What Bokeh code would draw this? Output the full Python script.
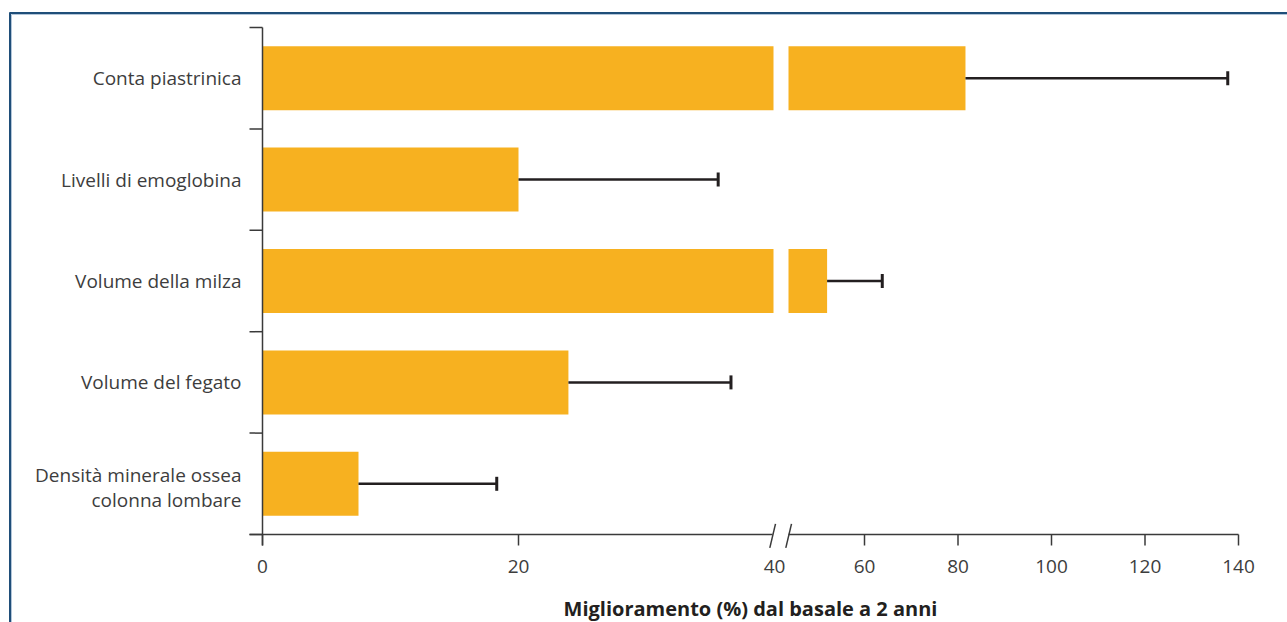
from bokeh.plotting import figure
from bokeh.models import Range1d
from bokeh.core.properties import value
from bokeh.embed import file_html
from bokeh.resources import INLINE

# ---- data -------------------------------------------------------------
categories = [
    "Conta piastrinica",
    "Livelli di emoglobina",
    "Volume della milza",
    "Volume del fegato",
    "Densità minerale ossea\ncolonna lombare",
]
improvement = [81.6, 20.0, 52.0, 23.9, 7.5]      # mean improvement (%)
upper = [137.7, 35.6, 63.8, 36.6, 18.3]          # top of the error bar (%)
tick_values = [0, 20, 40, 60, 80, 100, 120, 140]
tick_labels = ["0", "20", "40", "60", "80", "100", "120", "140"]
x_title = "Miglioramento (%) dal basale a 2 anni"

# ---- layout constants ---------------------------------------------------
W, H = 1287, 622
X0_PX = 262          # pixel column of value 0
PX_PER_UNIT = 12.8   # pixels per % below the axis break
AXIS_Y_PX = 534      # pixel row of the value axis
BAND_PX = 101.4      # height of one category band
BREAK = 40           # axis is compressed above this value
K2 = 4.675 / PX_PER_UNIT          # compression factor above the break
D40 = (770.5 - X0_PX) / PX_PER_UNIT
SEG1_END = (773 - X0_PX) / PX_PER_UNIT
SEG2_START = (788 - X0_PX) / PX_PER_UNIT

BAR_COLOR = "#F7B120"
INK = "#231f20"
AXIS_COLOR = "#3a3a3a"
TEXT_COLOR = "#3d3d3d"
FONT = value("Open Sans")


def to_axis(v):
    """Map a percentage to the broken-axis coordinate."""
    return v if v <= BREAK else D40 + (v - BREAK) * K2


def px_x(px):
    return (px - X0_PX) / PX_PER_UNIT


def px_y(py):
    return (AXIS_Y_PX - py) / BAND_PX


def dy(n):
    return n / BAND_PX


p = figure(
    width=W, height=H,
    x_range=Range1d(px_x(0), px_x(W)),
    y_range=Range1d(px_y(H), px_y(0)),
    output_backend="svg", toolbar_location=None,
    x_axis_type=None, y_axis_type=None,
    min_border=0, title=None,
)
p.outline_line_color = None
p.background_fill_color = "white"
p.border_fill_color = "white"

n = len(categories)
centers = [n - i - 0.5 for i in range(n)]

# ---- bars (split at the axis break) -----------------------------------
seg1_right = [min(to_axis(v), SEG1_END) for v in improvement]
p.hbar(y=centers, left=0, right=seg1_right, height=0.631,
       fill_color=BAR_COLOR, line_color=None)
long_y = [c for c, v in zip(centers, improvement) if v > BREAK]
long_r = [to_axis(v) for v in improvement if v > BREAK]
p.hbar(y=long_y, left=SEG2_START, right=long_r, height=0.631,
       fill_color=BAR_COLOR, line_color=None)

# ---- error bars --------------------------------------------------------
ex0 = [to_axis(v) for v in improvement]
ex1 = [to_axis(u) for u in upper]
p.segment(x0=ex0, y0=centers, x1=ex1, y1=centers, line_color=INK, line_width=2.5)
p.segment(x0=ex1, y0=[c - dy(7) for c in centers], x1=ex1,
          y1=[c + dy(7) for c in centers], line_color=INK, line_width=3)

# ---- category axis -----------------------------------------------------
p.segment(x0=[0], y0=[px_y(27)], x1=[0], y1=[px_y(545)],
          line_color=AXIS_COLOR, line_width=1.5)
bounds = list(range(n + 1))
p.segment(x0=[px_x(249)] * len(bounds), y0=bounds, x1=[0] * len(bounds), y1=bounds,
          line_color=AXIS_COLOR, line_width=1.5)

lab_x, lab_y, lab_t = [], [], []
for c, label in zip(centers, categories):
    lines = label.split("\n")
    m = len(lines)
    shift = 3.5 if m > 1 else 0.0
    for j, line in enumerate(lines):
        base = shift + (j - (m - 1) / 2) * 25.3
        lab_x.append(px_x(241))
        lab_y.append(c - dy(base))
        lab_t.append(line)
p.text(x=lab_x, y=lab_y, text=lab_t, text_align="right", text_baseline="middle",
       text_font=FONT, text_font_size="19px", text_color=TEXT_COLOR)

# ---- value axis with break ---------------------------------------------
p.segment(x0=[px_x(249), px_x(788)], y0=[0, 0],
          x1=[px_x(772), to_axis(tick_values[-1])], y1=[0, 0],
          line_color=AXIS_COLOR, line_width=1.5)
tick_x = [to_axis(v) for v in tick_values if v != BREAK]
p.segment(x0=tick_x, y0=[0] * len(tick_x), x1=tick_x, y1=[px_y(545)] * len(tick_x),
          line_color=AXIS_COLOR, line_width=1.5)
# break marks
p.segment(x0=[px_x(769.3), px_x(785.3)], y0=[px_y(547.3)] * 2,
          x1=[px_x(775), px_x(791)], y1=[px_y(523.3)] * 2,
          line_color=AXIS_COLOR, line_width=1.5)

p.text(x=[to_axis(v) for v in tick_values], y=[px_y(566)] * len(tick_values),
       text=tick_labels, text_align="center", text_baseline="middle",
       text_font=FONT, text_font_size="19px", text_color=TEXT_COLOR)

p.text(x=[px_x(750)], y=[px_y(608)], text=[x_title], text_align="center",
       text_baseline="middle", text_font=FONT, text_font_size="20px",
       text_font_style="bold", text_color=INK)

# ---- panel frame -------------------------------------------------------
p.segment(x0=[px_x(9), px_x(9.5)], y0=[px_y(12.5), px_y(12)],
          x1=[px_x(1300), px_x(9.5)], y1=[px_y(12.5), px_y(640)],
          line_color="#1f4e79", line_width=2)
p.segment(x0=[px_x(11), px_x(11)], y0=[px_y(14), px_y(14)],
          x1=[px_x(1300), px_x(11)], y1=[px_y(14), px_y(640)],
          line_color="#b3c6d9", line_width=1)

open("out.html", "w").write(file_html(p, INLINE))
